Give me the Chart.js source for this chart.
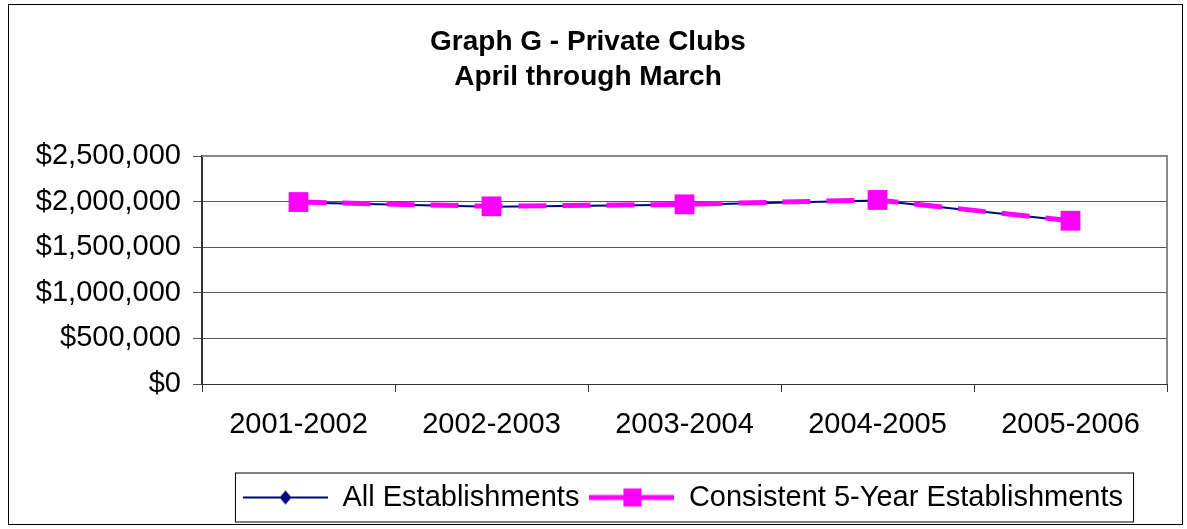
<!DOCTYPE html>
<html lang="en">
<head>
  <meta charset="UTF-8" />
  <title>Graph G - Private Clubs</title>
  <script src="https://cdn.jsdelivr.net/npm/chart.js"></script>
  <style>
    body { margin: 0; background: #fff; }
    #frame { position: absolute; left: 8px; top: 4px; width: 1173px; height: 519px; border: 1px solid #000; }
    canvas { display: block; }
  </style>
</head>
<body>
  <div id="frame">
    <canvas id="clubChart" width="1173" height="519"></canvas>
  </div>

  <script>
    const years = ['2001-2002', '2002-2003', '2003-2004', '2004-2005', '2005-2006'];
    const allEstablishments = [1990000, 1943000, 1965000, 2013000, 1786000];
    const consistentEstablishments = [1995000, 1948000, 1970000, 2018000, 1790000];
    const yTicks = [0, 500000, 1000000, 1500000, 2000000, 2500000];

    const NAVY = '#000080';
    const PINK = '#ff00ff';
    const FONT = "'Liberation Sans', Arial, sans-serif";

    // little line+marker pictures for the legend, like Excel draws them
    function legendSymbol(kind) {
      const c = document.createElement('canvas');
      c.width = 85; c.height = 24;
      const g = c.getContext('2d');
      if (kind === 'diamond') {
        g.strokeStyle = NAVY; g.lineWidth = 2;
        g.beginPath(); g.moveTo(0, 12); g.lineTo(85, 12); g.stroke();
        g.fillStyle = NAVY;
        g.beginPath(); g.moveTo(42.5, 5); g.lineTo(48.5, 12); g.lineTo(42.5, 19); g.lineTo(36.5, 12); g.closePath(); g.fill();
      } else {
        g.strokeStyle = PINK; g.lineWidth = 5;
        g.beginPath(); g.moveTo(0, 12); g.lineTo(85, 12); g.stroke();
        g.fillStyle = PINK;
        g.fillRect(34, 3, 18, 18);
      }
      return c;
    }

    const frameBits = {
      id: 'frameBits',
      afterLayout(chart) {
        // legend sits right of centre in the original
        chart.legend.left += 95;
        chart.legend.right += 95;
      },
      afterDraw(chart) {
        const ctx = chart.ctx;
        const a = chart.chartArea;
        ctx.save();
        // plot area border, top and right
        ctx.strokeStyle = '#888';
        ctx.lineWidth = 2;
        ctx.beginPath();
        ctx.moveTo(a.left, a.top);
        ctx.lineTo(a.right, a.top);
        ctx.lineTo(a.right, a.bottom);
        ctx.stroke();
        // box round the legend
        const boxes = chart.legend.legendHitBoxes;
        if (boxes && boxes.length) {
          const first = boxes[0];
          const last = boxes[boxes.length - 1];
          const cy = first.top + first.height / 2;
          ctx.strokeStyle = '#000';
          ctx.lineWidth = 1;
          ctx.strokeRect(first.left - 7.5, cy - 24.5, last.left + last.width - first.left + 18, 49);
        }
        ctx.restore();
      }
    };

    const ctx = document.getElementById('clubChart').getContext('2d');
    const chart = new Chart(ctx, {
      type: 'line',
      data: {
        labels: years,
        datasets: [{
          label: 'All Establishments',
          data: allEstablishments,
          borderColor: NAVY,
          backgroundColor: NAVY,
          borderWidth: 2,
          pointStyle: 'rectRot',
          pointRadius: 7,
          pointBorderWidth: 0,
          tension: 0,
          order: 2
        }, {
          label: 'Consistent 5-Year Establishments',
          data: consistentEstablishments,
          borderColor: PINK,
          backgroundColor: PINK,
          borderWidth: 5,
          borderDash: [28, 16],
          pointStyle: 'rect',
          pointRadius: 14,
          pointBorderWidth: 0,
          tension: 0,
          order: 1
        }]
      },
      options: {
        responsive: false,
        animation: false,
        layout: { padding: { top: 0, right: 15, bottom: 2, left: 0 } },
        plugins: {
          tooltip: { enabled: false },
          title: {
            display: true,
            text: ['Graph G - Private Clubs', 'April through March'],
            color: '#000',
            font: { family: FONT, size: 28, weight: 'bold', lineHeight: 1.25 },
            padding: { top: 20, bottom: 61 }
          },
          legend: {
            position: 'bottom',
            labels: {
              color: '#000',
              font: { family: FONT, size: 29 },
              usePointStyle: true,
              pointStyleWidth: 85,
              padding: 10,
              generateLabels: () => [
                { text: 'All Establishments', pointStyle: legendSymbol('diamond'), datasetIndex: 0, hidden: false, fontColor: '#000', lineWidth: 0 },
                { text: 'Consistent 5-Year Establishments', pointStyle: legendSymbol('square'), datasetIndex: 1, hidden: false, fontColor: '#000', lineWidth: 0 }
              ]
            }
          }
        },
        scales: {
          x: {
            offset: true,
            grid: { offset: true, drawOnChartArea: false, tickLength: 8, color: '#333' },
            border: { color: '#333', width: 1 },
            ticks: { color: '#000', font: { family: FONT, size: 29 }, padding: 16, maxRotation: 0 },
            afterFit: (s) => { s.height = 89; }
          },
          y: {
            min: 0,
            max: 2500000,
            afterBuildTicks: (s) => { s.ticks = yTicks.map(v => ({ value: v })); },
            grid: { color: '#555', tickLength: 9 },
            border: { color: '#333', width: 2 },
            ticks: {
              color: '#000',
              font: { family: FONT, size: 29 },
              padding: 12,
              callback: (v) => '$' + Number(v).toLocaleString('en-US')
            },
            afterFit: (s) => { s.width = 193; }
          }
        }
      },
      plugins: [frameBits]
    });
  </script>
</body>
</html>
